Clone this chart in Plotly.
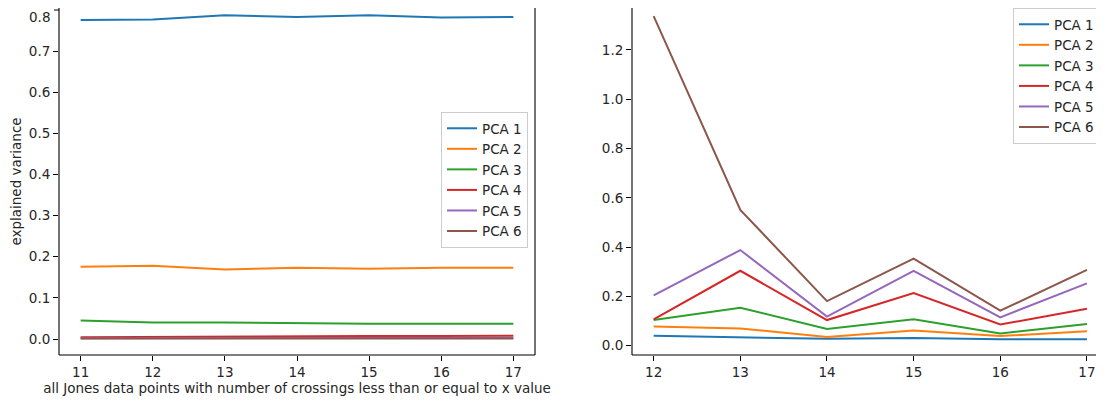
import plotly.graph_objects as go

# ---- data ----
x_left = [11, 12, 13, 14, 15, 16, 17]
left_pca1 = [0.776, 0.777, 0.787, 0.783, 0.787, 0.782, 0.783]
left_pca2 = [0.176, 0.178, 0.169, 0.173, 0.171, 0.173, 0.173]
left_pca3 = [0.045, 0.040, 0.040, 0.038, 0.037, 0.037, 0.037]
left_pca4 = [0.004, 0.005, 0.006, 0.006, 0.007, 0.007, 0.008]
left_pca5 = [0.002, 0.002, 0.003, 0.003, 0.003, 0.003, 0.003]
left_pca6 = [0.001, 0.001, 0.001, 0.001, 0.001, 0.001, 0.001]

x_right = [12, 13, 14, 15, 16, 17]
right_pca1 = [0.040, 0.034, 0.028, 0.031, 0.026, 0.026]
right_pca2 = [0.078, 0.070, 0.035, 0.062, 0.039, 0.059]
right_pca3 = [0.104, 0.154, 0.068, 0.107, 0.050, 0.088]
right_pca4 = [0.107, 0.304, 0.104, 0.214, 0.086, 0.150]
right_pca5 = [0.204, 0.388, 0.118, 0.304, 0.115, 0.253]
right_pca6 = [1.337, 0.551, 0.181, 0.353, 0.142, 0.308]

names = ["PCA 1", "PCA 2", "PCA 3", "PCA 4", "PCA 5", "PCA 6"]
colors = ["#1f77b4", "#ff7f0e", "#2ca02c", "#d62728", "#9467bd", "#8c564b"]

left_ticks = [0.0, 0.1, 0.2, 0.3, 0.4, 0.5, 0.6, 0.7, 0.8]
right_ticks = [0.0, 0.2, 0.4, 0.6, 0.8, 1.0, 1.2]

xlabel = "all Jones data points with number of crossings less than or equal to x value"
ylabel = "explained variance"

W, H = 1104, 404
FONT = "DejaVu Sans"
TXT = "#262626"
FS = 13.5

fig = go.Figure()
left_series = [left_pca1, left_pca2, left_pca3, left_pca4, left_pca5, left_pca6]
right_series = [right_pca1, right_pca2, right_pca3, right_pca4, right_pca5, right_pca6]

for n, c, ys in zip(names, colors, left_series):
    fig.add_trace(go.Scatter(x=x_left, y=ys, mode="lines", name=n,
                             line=dict(color=c, width=2), xaxis="x", yaxis="y",
                             legend="legend"))
for n, c, ys in zip(names, colors, right_series):
    fig.add_trace(go.Scatter(x=x_right, y=ys, mode="lines", name=n,
                             line=dict(color=c, width=2), xaxis="x2", yaxis="y2",
                             legend="legend2"))

# pixel geometry (figure coordinates; page body adds an 8px offset)
L0, L1 = 51, 527
R0, R1 = 624, 1100.6
BOT = 347
PH = BOT  # plot-area height (top margin 0)

axis_common = dict(showgrid=False, zeroline=False, showline=False,
                   ticks="outside", ticklen=5, tickwidth=1, tickcolor="black",
                   tickfont=dict(family=FONT, size=FS, color=TXT))

# top left tick (0.8) sits at the figure edge; its label is drawn as an annotation
left_top = left_ticks[-1]
left_ticks_axis = left_ticks[:-1]

fig.update_layout(
    width=W, height=H,
    margin=dict(l=0, r=0, t=0, b=H - BOT, pad=0),
    paper_bgcolor="white", plot_bgcolor="white",
    font=dict(family=FONT, size=FS, color=TXT),
    xaxis=dict(domain=[L0 / W, L1 / W], range=[10.7, 17.3], anchor="y",
               tickvals=x_left, ticktext=[str(v) for v in x_left],
               title=dict(text=xlabel, font=dict(family=FONT, size=FS, color=TXT), standoff=4),
               **axis_common),
    yaxis=dict(domain=[0, 1], range=[-0.0389, 0.8049], anchor="x",
               tickvals=left_ticks_axis, ticktext=[f"{v:.1f}" for v in left_ticks_axis],
               title=dict(text=ylabel, font=dict(family=FONT, size=FS, color=TXT), standoff=6),
               **axis_common),
    xaxis2=dict(domain=[R0 / W, R1 / W], range=[11.75, 17.25], anchor="y2",
                tickvals=x_right, ticktext=[str(v) for v in x_right],
                **axis_common),
    yaxis2=dict(domain=[0, 1], range=[-0.0377, 1.370], anchor="x2",
                tickvals=right_ticks, ticktext=[f"{v:.1f}" for v in right_ticks],
                **axis_common),
    legend=dict(x=433 / W, y=1 - 104 / PH, xanchor="left", yanchor="top",
                xref="paper", yref="paper",
                bgcolor="rgba(255,255,255,0.8)", bordercolor="#cccccc", borderwidth=1,
                font=dict(family=FONT, size=FS, color=TXT), tracegroupgap=0),
    legend2=dict(x=1005 / W, y=1.0, xanchor="left", yanchor="top",
                 xref="paper", yref="paper",
                 bgcolor="rgba(255,255,255,0.8)", bordercolor="#cccccc", borderwidth=1,
                 font=dict(family=FONT, size=FS, color=TXT), tracegroupgap=0),
    showlegend=True,
)

fig.add_annotation(x=L0 / W, xref="paper", y=1.0, yref="paper",
                   text=f"{left_top:.1f}", showarrow=False,
                   xanchor="right", yanchor="top", xshift=-7, yshift=1,
                   font=dict(family=FONT, size=FS, color=TXT))
fig.add_shape(type="line", xref="paper", yref="y",
              x0=(L0 - 5) / W, x1=L0 / W, y0=left_top, y1=left_top,
              line=dict(color="black", width=1))

# spines: left, bottom, right (top spine lies above the visible page)
for x0, x1 in [(L0, L1), (R0, R1)]:
    for (ax0, ay0, ax1, ay1) in [(x0, 0, x0, 1), (x0, 0, x1, 0), (x1, 0, x1, 1)]:
        fig.add_shape(type="line", xref="paper", yref="paper",
                      x0=ax0 / W, x1=ax1 / W, y0=ay0, y1=ay1,
                      line=dict(color="black", width=1.1), layer="above")

fig.write_html("out.html")
